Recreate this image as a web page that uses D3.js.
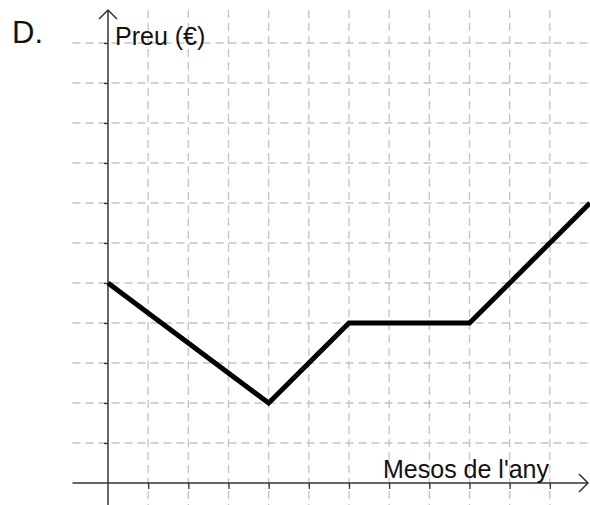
<!DOCTYPE html>
<html>
<head>
<meta charset="utf-8">
<script src="https://cdn.jsdelivr.net/npm/d3@7"></script>
<style>
  body { margin: 0; background: #fff; }
  svg { display: block; font-family: "Liberation Sans", Arial, sans-serif; }
</style>
</head>
<body>
<div id="chart"></div>
<script>
// months (x) and price (y) of the broken line
var months = [0, 4, 6, 9, 12];
var prices = [5, 2, 4, 4, 7];

// grid steps
var xTicks = [1, 2, 3, 4, 5, 6, 7, 8, 9, 10, 11];
var yTicks = [1, 2, 3, 4, 5, 6, 7, 8, 9, 10, 11];

var label = "D.";
var yLabel = "Preu (€)";
var xLabel = "Mesos de l'any";

var width = 590,
  height = 505;

var x = d3.scaleLinear().domain([0, 12]).range([108, 590]);
var y = d3.scaleLinear().domain([0, 11]).range([483, 43]);

var svg = d3.select("#chart")
  .append("svg")
  .attr("width", width)
  .attr("height", height);

//GRID
svg.append("g")
  .selectAll("line")
  .data(xTicks)
  .enter().append("line")
  .attr("x1", function(d) { return x(d); })
  .attr("x2", function(d) { return x(d); })
  .attr("y1", 10)
  .attr("y2", height)
  .attr("stroke", "#c4c4c4")
  .attr("stroke-width", 1.3)
  .attr("stroke-dasharray", "8,5");

svg.append("g")
  .selectAll("line")
  .data(yTicks)
  .enter().append("line")
  .attr("x1", 72.5)
  .attr("x2", width)
  .attr("y1", function(d) { return y(d); })
  .attr("y2", function(d) { return y(d); })
  .attr("stroke", "#c4c4c4")
  .attr("stroke-width", 1.3)
  .attr("stroke-dasharray", "8,5");

//AXES
var xAxis = d3.axisBottom(x)
  .tickValues(xTicks)
  .tickSize(6)
  .tickFormat("");

var yAxis = d3.axisLeft(y)
  .tickValues(yTicks)
  .tickSize(4)
  .tickFormat("");

var gx = svg.append("g")
  .attr("transform", "translate(0," + y(0) + ")")
  .call(xAxis);
gx.select(".domain").remove();

var gy = svg.append("g")
  .attr("transform", "translate(" + x(0) + ",0)")
  .call(yAxis);
gy.select(".domain").remove();

svg.selectAll(".tick line").attr("stroke", "#333").attr("stroke-width", 1.3);

// axis lines with open arrowheads
svg.append("line")
  .attr("x1", 72.5).attr("x2", 588)
  .attr("y1", y(0)).attr("y2", y(0))
  .attr("stroke", "#333").attr("stroke-width", 1.5);

svg.append("path")
  .attr("d", "M579," + (y(0) - 9) + "L588," + y(0) + "L579," + (y(0) + 9))
  .attr("fill", "none").attr("stroke", "#333").attr("stroke-width", 1.5);

svg.append("line")
  .attr("x1", x(0)).attr("x2", x(0))
  .attr("y1", 10).attr("y2", height)
  .attr("stroke", "#333").attr("stroke-width", 1.5);

svg.append("path")
  .attr("d", "M" + (x(0) - 9) + ",19L" + x(0) + ",10L" + (x(0) + 9) + ",19")
  .attr("fill", "none").attr("stroke", "#333").attr("stroke-width", 1.5);

//LINE
var line = d3.line()
  .x(function(d) { return x(d[0]); })
  .y(function(d) { return y(d[1]); });

svg.append("path")
  .datum(d3.zip(months, prices))
  .attr("d", line)
  .attr("fill", "none")
  .attr("stroke", "#000")
  .attr("stroke-width", 5)
  .attr("stroke-linejoin", "miter");

//TEXT
svg.append("text")
  .attr("x", 12)
  .attr("y", 42.5)
  .attr("font-size", 31)
  .attr("fill", "#111")
  .text(label);

svg.append("text")
  .attr("x", 115)
  .attr("y", 44.5)
  .attr("font-size", 25)
  .attr("fill", "#111")
  .text(yLabel);

svg.append("text")
  .attr("x", 383)
  .attr("y", 477.5)
  .attr("font-size", 25)
  .attr("fill", "#111")
  .text(xLabel);
</script>
</body>
</html>
